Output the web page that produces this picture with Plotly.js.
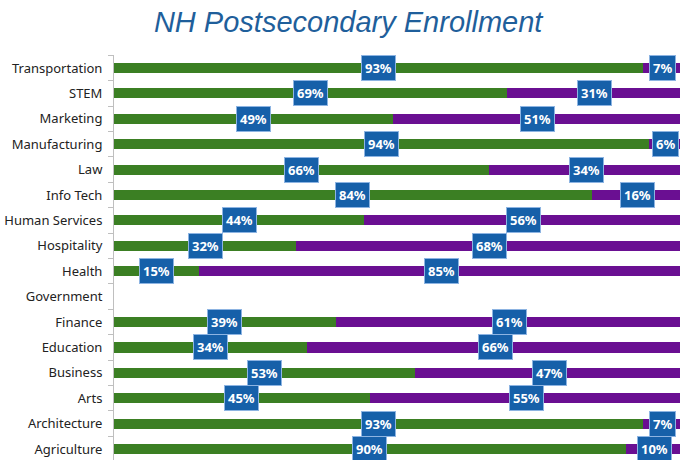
<!DOCTYPE html>
<html><head><meta charset="utf-8">
<script src="https://cdn.plot.ly/plotly-3.0.1.min.js"></script>
<style>html,body{margin:0;padding:0;background:#fff}#chart{width:680px;height:460px}</style>
</head><body><div id="chart"></div>
<script>
const categories = ['Transportation','STEM','Marketing','Manufacturing','Law','Info Tech','Human Services','Hospitality','Health','Government','Finance','Education','Business','Arts','Architecture','Agriculture'];
const greenValues = [93,69,49,94,66,84,44,32,15,null,39,34,53,45,93,90];
const purpleValues = [7,31,51,6,34,16,56,68,85,null,61,66,47,55,7,10];

const labelFont = {family:'Noto Sans, sans-serif', size:13, color:'#fff', weight:'bold'};
const annotations = [];
categories.forEach((c, i) => {
  const g = greenValues[i], p = purpleValues[i];
  if (g != null) annotations.push({x: g/2, y: c, xref:'x', yref:'y', text: g + '%', showarrow:false,
    bgcolor:'#1660A9', bordercolor:'#8DB4E2', borderwidth:1, borderpad:3, font:labelFont});
  if (p != null) annotations.push({x: g + p/2, y: c, xref:'x', yref:'y', text: p + '%', showarrow:false,
    bgcolor:'#1660A9', bordercolor:'#8DB4E2', borderwidth:1, borderpad:3, font:labelFont});
});

const traces = [
  {type:'bar', orientation:'h', y: categories, x: greenValues, marker:{color:'#3B7F23'}, width:0.4, hoverinfo:'none'},
  {type:'bar', orientation:'h', y: categories, x: purpleValues, marker:{color:'#6A0F92'}, width:0.4, hoverinfo:'none'}
];

const layout = {
  width:680, height:460,
  margin:{l:114, r:0, t:55, b:0},
  barmode:'stack', showlegend:false,
  paper_bgcolor:'#fff', plot_bgcolor:'#fff',
  title:{text:'NH Postsecondary Enrollment', xref:'container', x:0.512, xanchor:'center', yref:'container', y:0.952, yanchor:'middle',
    font:{family:'Liberation Sans, Arial, sans-serif', size:29, color:'#1F5F9B', style:'italic'}},
  xaxis:{range:[0,99.5], showgrid:false, zeroline:false, showticklabels:false, showline:false, ticks:''},
  yaxis:{type:'category', categoryorder:'array', categoryarray:categories, range:[15.43,-0.51],
    showgrid:false, zeroline:false, showline:true, linecolor:'#BFBFBF', linewidth:1,
    ticks:'outside', ticklen:5, tickcolor:'#BFBFBF', tickson:'boundaries',
    ticklabelstandoff:8,
    tickfont:{family:'Noto Sans, sans-serif', size:13, color:'#222'}},
  annotations: annotations
};
Plotly.newPlot('chart', traces, layout, {displayModeBar:false, staticPlot:true});
</script></body></html>
